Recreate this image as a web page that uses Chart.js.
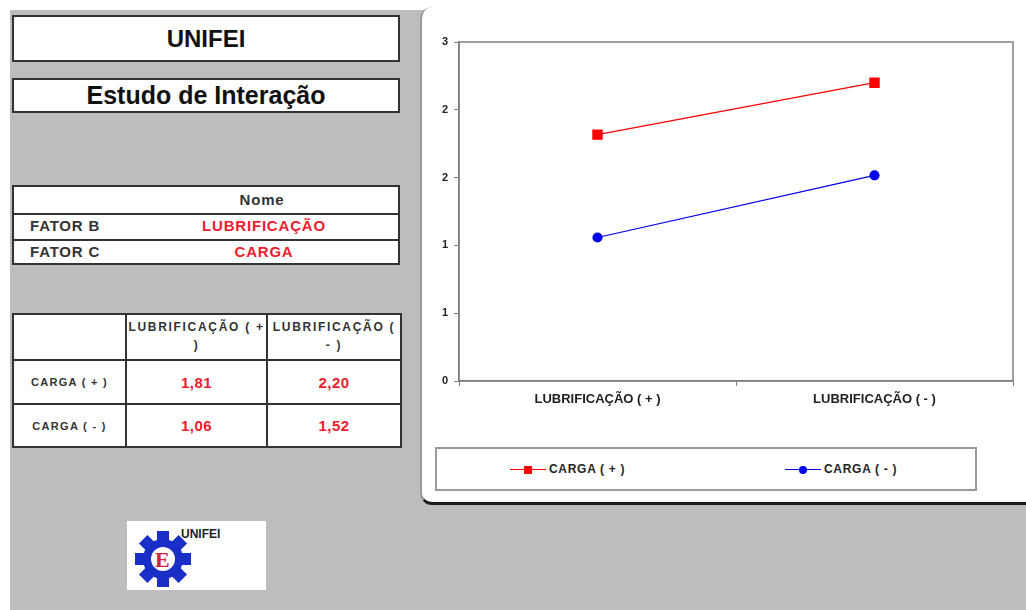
<!DOCTYPE html>
<html>
<head>
<meta charset="utf-8">
<script src="https://cdn.jsdelivr.net/npm/chart.js@4.4.1/dist/chart.umd.min.js"></script>
<style>
html,body{margin:0;padding:0;background:#fff;width:1026px;height:610px;overflow:hidden;font-family:"Liberation Sans",Arial,sans-serif}
#bg{position:absolute;left:10px;top:10px;width:1016px;height:600px;background:#bdbdbd}
.box{position:absolute;background:#fff;border:2px solid #333;box-sizing:border-box;text-align:center;font-weight:bold;color:#111}
#t1{position:absolute;left:12px;top:185px;width:388px;height:80px;background:#fff;border:2px solid #333;box-sizing:border-box}
#t1 .row{position:absolute;left:0;right:0;height:26px;font-weight:bold;font-size:15px;color:#333;line-height:26px;letter-spacing:0.8px}
#t2{position:absolute;left:12px;top:313px;width:388px;border-collapse:collapse;background:#fff;table-layout:fixed}
#t2 td{border:2px solid #333;padding:0;text-align:center;font-weight:bold;color:#333;font-size:11px;letter-spacing:1.3px;overflow:hidden}
.red{color:#ee1c2e !important}
#panel{position:absolute;left:420px;top:7px;width:620px;height:498px;background:#fff;border-left:2px solid #999;border-bottom:3px solid #1a1a1a;border-radius:12px 0 0 12px;box-sizing:border-box}
#wrap{position:absolute;left:422px;top:0px;width:604px;height:430px}
#legend{position:absolute;left:435px;top:447px;width:542px;height:44px;border:2px solid #9a9a9a;box-sizing:border-box;background:#fff}
.item{position:absolute;top:13px;font-size:12px;font-weight:bold;color:#222;display:flex;align-items:center;letter-spacing:0.7px}
.sample{position:relative;width:36px;height:12px;margin-right:3px}
.sample .ln{position:absolute;left:0;right:0;top:6px;height:1px}
.sample .mk{position:absolute;left:14px;top:3px;width:8px;height:8px}
#logo{position:absolute;left:127px;top:521px;width:139px;height:69px;background:#fff}
</style>
</head>
<body>
<div id="bg"></div>
<div class="box" style="left:12px;top:15px;width:388px;height:47px;font-size:24px;line-height:43px">UNIFEI</div>
<div class="box" style="left:12px;top:78px;width:388px;height:35px;font-size:25px;line-height:31px">Estudo de Interação</div>
<div id="t1"></div>
<table id="t2"></table>
<div id="logo">
<svg width="139" height="69" viewBox="0 0 139 69">
<g transform="translate(36,38)" fill="#1a2fc8">
<circle r="20"/>
<rect x="-6" y="-28" width="12" height="56"/>
<rect x="-28" y="-6" width="56" height="12"/>
<rect x="-6" y="-28" width="12" height="56" transform="rotate(45)"/>
<rect x="-6" y="-28" width="12" height="56" transform="rotate(-45)"/>
<circle r="13" fill="#fff"/>
<circle r="13" fill="none" stroke="#1a2fc8" stroke-width="2"/>
<text x="-8" y="8" font-size="22" font-weight="bold" fill="#d0203a" font-family="Liberation Serif">E</text>
</g>
<text x="54" y="17" font-size="12" font-weight="bold" fill="#222" font-family="Liberation Sans">UNIFEI</text>
</svg>
</div>
<div id="panel"></div>
<div id="wrap"><canvas id="chart" width="604" height="430"></canvas></div>
<div id="legend"></div>
<script>
// valores
const categories=['LUBRIFICAÇÃO ( + )','LUBRIFICAÇÃO ( - )'];
const seriesNames=['CARGA ( + )','CARGA ( - )'];
const cargaMais=[2.18,2.64];
const cargaMenos=[1.27,1.82];
const seriesColors=['#ff0000','#0000ee'];
const yMin=0,yMax=3,yStep=0.6;

// tabelas da planilha
const fatores=[['FATOR B','LUBRIFICAÇÃO'],['FATOR C','CARGA']];
const colHeaders=['LUBRIFICAÇÃO ( + )','LUBRIFICAÇÃO ( - )'];
const rowHeaders=['CARGA ( + )','CARGA ( - )'];
const tableValues=[['1,81','2,20'],['1,06','1,52']];

let h='<div class="row" style="top:0;text-align:center;padding-left:112px;border-bottom:2px solid #333">Nome</div>';
fatores.forEach((f,i)=>{
 h+=`<div class="row" style="top:${26+i*26}px;${i?'':'border-bottom:2px solid #333;'}"><span style="position:absolute;left:16px">${f[0]}</span><span class="red" style="position:absolute;left:184px;width:132px;text-align:center">${f[1]}</span></div>`;
});
document.getElementById('t1').innerHTML=h;

let t='<colgroup><col style="width:113px"><col style="width:141px"><col style="width:134px"></colgroup><tr style="height:46px"><td></td>';
colHeaders.forEach(c=>{t+=`<td style="line-height:18px;vertical-align:top;padding-top:3px;font-size:12px;letter-spacing:1.7px">${c}</td>`});
t+='</tr>';
rowHeaders.forEach((r,i)=>{
 t+=`<tr style="height:${i?43:44}px"><td>${r}</td>`;
 tableValues[i].forEach(v=>{t+=`<td class="red" style="font-size:15px;letter-spacing:0.5px">${v}</td>`});
 t+='</tr>';
});
document.getElementById('t2').innerHTML=t;

document.getElementById('legend').innerHTML=seriesNames.map((n,i)=>
 `<div class="item" style="left:${i?348:73}px"><div class="sample"><div class="ln" style="background:${seriesColors[i]}"></div><div class="mk" style="background:${seriesColors[i]};border-radius:${i?'50%':'0'}"></div></div>${n}</div>`).join('');

const plotBorder={id:'plotBorder',afterDraw(c){
 const a=c.chartArea,ctx=c.ctx;
 ctx.save();ctx.strokeStyle='#808080';ctx.lineWidth=1.5;
 ctx.strokeRect(a.left,a.top,a.right-a.left,a.bottom-a.top);
 ctx.restore();
}};

const tickFont={family:'"Liberation Sans", Arial, sans-serif',size:11,weight:'bold'};
new Chart(document.getElementById('chart'),{
 type:'line',
 data:{labels:categories,datasets:[
  {label:seriesNames[0],data:cargaMais,borderColor:seriesColors[0],backgroundColor:seriesColors[0],borderWidth:1.2,pointStyle:'rect',pointRadius:6.5,pointHoverRadius:6.5},
  {label:seriesNames[1],data:cargaMenos,borderColor:seriesColors[1],backgroundColor:seriesColors[1],borderWidth:1.2,pointStyle:'circle',pointRadius:4.5,pointHoverRadius:4.5}
 ]},
 options:{
  responsive:false,animation:false,
  layout:{padding:{top:42,right:13,left:0,bottom:0}},
  plugins:{legend:{display:false},tooltip:{enabled:false}},
  scales:{
   x:{offset:true,
    grid:{offset:true,drawOnChartArea:false,tickLength:5,color:'#808080'},
    border:{color:'#808080',width:1.5},
    ticks:{font:{...tickFont,size:13},color:'#222',padding:6,maxRotation:0},
    afterFit(s){s.height=49}},
   y:{min:yMin,max:yMax,
    grid:{drawOnChartArea:false,tickLength:5,color:'#808080'},
    border:{color:'#808080',width:1.5},
    ticks:{stepSize:yStep,font:tickFont,color:'#222',padding:6,callback:v=>Math.round(v)},
    afterFit(s){s.width=37}}
  }
 },
 plugins:[plotBorder]
});
</script>
</body>
</html>
